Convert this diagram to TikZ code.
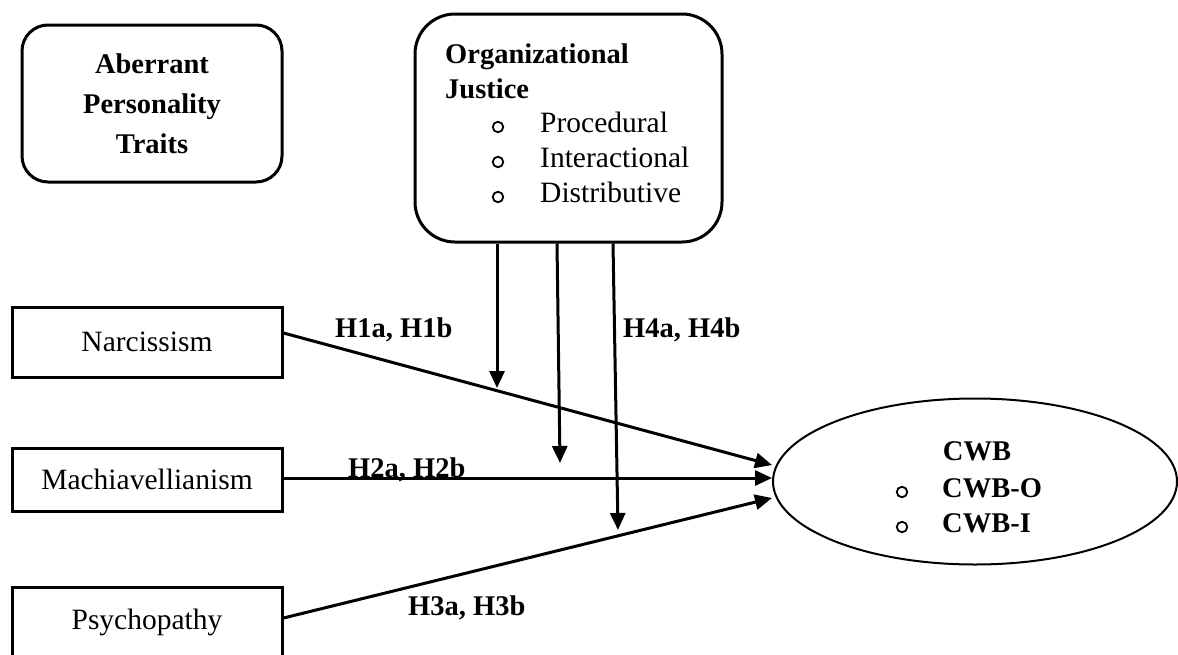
\documentclass[tikz,border=0pt]{standalone}
\usepackage{fontspec}
\setmainfont{Liberation Serif}
\usetikzlibrary{arrows.meta,shapes.geometric}
\begin{document}
\begin{tikzpicture}[x=1pt,y=-1pt,
  reg/.style={font=\fontsize{29.5}{34}\selectfont},
  bld/.style={font=\fontsize{28.5}{40}\selectfont\bfseries},
  rbox/.style={draw,line width=3pt,rounded corners=#1,inner sep=0pt},
  sbox/.style={draw,line width=3pt,inner sep=0pt,minimum width=270pt,font=\fontsize{29.5}{34}\selectfont},
  bul/.style={draw,circle,line width=1.8pt,minimum size=10.5pt,inner sep=0pt},
  txt/.style={inner sep=0pt,anchor=base west},
  arr/.style={line width=3pt,-{Triangle[length=17pt,width=15pt]}}
]
\useasboundingbox (0,0) rectangle (1178,654);

% Aberrant personality traits
\node[rbox=26pt,minimum width=260pt,minimum height=157pt,align=center,bld] (apt) at (152,103.5)
  {Aberrant\\Personality\\Traits};

% Organizational justice
\node[rbox=40pt,minimum width=307pt,minimum height=228pt] (org) at (568.5,128) {};
\node[txt,bld] (orgt1) at (445,63) {Organizational};
\node[txt,bld] (orgt2) at (445,98) {Justice};
\node[bul] (ob1) at (498,127) {};
\node[bul] (ob2) at (498,162) {};
\node[bul] (ob3) at (498,197) {};
\node[txt,reg] (oi1) at (540,132) {Procedural};
\node[txt,reg] (oi2) at (540,167) {Interactional};
\node[txt,reg] (oi3) at (540,202) {Distributive};

% Predictors
\node[sbox,minimum height=70pt] (narc) at (147,342) {Narcissism};
\node[sbox,minimum height=63pt] (mach) at (147,479.5) {Machiavellianism};
\node[sbox,minimum height=70pt] (psy) at (147,622) {Psychopathy};

% Outcome
\node[draw,ellipse,line width=2pt,minimum width=404pt,minimum height=166pt,inner sep=0pt] (cwb) at (975,481.5) {};
\node[inner sep=0pt,anchor=base,bld] (cwbt) at (977,460) {CWB};
\node[bul] (cb1) at (902,492) {};
\node[bul] (cb2) at (902,527) {};
\node[txt,bld] (cwbo) at (942,497) {CWB-O};
\node[txt,bld] (cwbi) at (942,532) {CWB-I};

% Hypothesis labels
\node[txt,bld] (h1) at (335,337) {H1a, H1b};
\node[txt,bld] (h4) at (623,337) {H4a, H4b};
\node[txt,bld] (h2) at (348,477) {H2a, H2b};
\node[txt,bld] (h3) at (408,615) {H3a, H3b};

% Arrow end points
\coordinate (t1) at (772,465);
\coordinate (t2) at (772,478);
\coordinate (t3) at (772,498);
\coordinate (v1) at (497,388);
\coordinate (v2) at (560,463);
\coordinate (v3) at (618,530);

% Direct paths
\draw[arr] ([yshift=9pt]narc.east) -- (t1);
\draw[arr] ([yshift=1.5pt]mach.east) -- (t2);
\draw[arr] ([yshift=4pt]psy.east) -- (t3);

% Moderation paths
\draw[arr] (v1 |- org.south) -- (v1);
\draw[arr] ([xshift=-11.5pt]org.south) -- (v2);
\draw[arr] ([xshift=44.5pt]org.south) -- (v3);
\end{tikzpicture}
\end{document}
